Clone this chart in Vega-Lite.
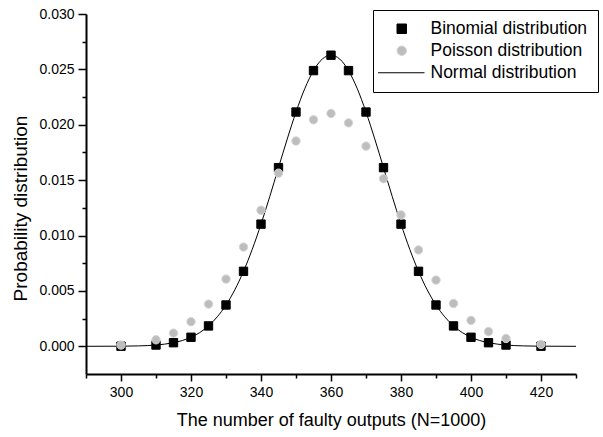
{
  "$schema": "https://vega.github.io/schema/vega-lite/v6.json",
  "width": 490,
  "height": 360,
  "autosize": "none",
  "padding": {"left": 86, "top": 14, "right": 27, "bottom": 63},
  "background": "white",
  "config": {
    "view": {"stroke": null},
    "font": "Liberation Sans",
    "axis": {
      "grid": false,
      "domainColor": "black",
      "domainWidth": 2,
      "tickColor": "black",
      "tickWidth": 1.5,
      "labelFont": "Liberation Sans",
      "labelFontSize": 14,
      "labelColor": "black",
      "labelOverlap": false,
      "labelFlush": false,
      "titleFont": "Liberation Sans",
      "titleFontSize": 18,
      "titleFontWeight": "normal",
      "titleColor": "black"
    }
  },
  "resolve": {"axis": {"x": "independent", "y": "independent"}},
  "datasets": {
    "normal": [
      {"x": 290, "y": 0}, {"x": 300, "y": 0.00001}, {"x": 305, "y": 0.000037}, {"x": 310, "y": 0.000116},
      {"x": 315, "y": 0.000325}, {"x": 317.5, "y": 0.000521}, {"x": 320, "y": 0.000816}, {"x": 322.5, "y": 0.00124},
      {"x": 325, "y": 0.00184}, {"x": 327.5, "y": 0.00266}, {"x": 330, "y": 0.00373}, {"x": 332.5, "y": 0.00509},
      {"x": 335, "y": 0.00677}, {"x": 337.5, "y": 0.00876}, {"x": 340, "y": 0.01103}, {"x": 342.5, "y": 0.01352},
      {"x": 345, "y": 0.01613}, {"x": 347.5, "y": 0.01872}, {"x": 350, "y": 0.02115}, {"x": 352.5, "y": 0.02326},
      {"x": 355, "y": 0.02489}, {"x": 357.5, "y": 0.02593}, {"x": 360, "y": 0.02628}, {"x": 362.5, "y": 0.02593},
      {"x": 365, "y": 0.02489}, {"x": 367.5, "y": 0.02326}, {"x": 370, "y": 0.02115}, {"x": 372.5, "y": 0.01872},
      {"x": 375, "y": 0.01613}, {"x": 377.5, "y": 0.01352}, {"x": 380, "y": 0.01103}, {"x": 382.5, "y": 0.00876},
      {"x": 385, "y": 0.00677}, {"x": 387.5, "y": 0.00509}, {"x": 390, "y": 0.00373}, {"x": 392.5, "y": 0.00266},
      {"x": 395, "y": 0.00184}, {"x": 397.5, "y": 0.00124}, {"x": 400, "y": 0.000816}, {"x": 402.5, "y": 0.000521},
      {"x": 405, "y": 0.000325}, {"x": 410, "y": 0.000116}, {"x": 415, "y": 0.000037}, {"x": 420, "y": 0.00001},
      {"x": 430, "y": 0}
    ],
    "points": [
      {"x": 300, "y": 0.00001, "series": "Binomial distribution"},
      {"x": 310, "y": 0.000116, "series": "Binomial distribution"},
      {"x": 315, "y": 0.000325, "series": "Binomial distribution"},
      {"x": 320, "y": 0.000816, "series": "Binomial distribution"},
      {"x": 325, "y": 0.00184, "series": "Binomial distribution"},
      {"x": 330, "y": 0.00373, "series": "Binomial distribution"},
      {"x": 335, "y": 0.00677, "series": "Binomial distribution"},
      {"x": 340, "y": 0.01103, "series": "Binomial distribution"},
      {"x": 345, "y": 0.01613, "series": "Binomial distribution"},
      {"x": 350, "y": 0.02115, "series": "Binomial distribution"},
      {"x": 355, "y": 0.02489, "series": "Binomial distribution"},
      {"x": 360, "y": 0.02628, "series": "Binomial distribution"},
      {"x": 365, "y": 0.02489, "series": "Binomial distribution"},
      {"x": 370, "y": 0.02115, "series": "Binomial distribution"},
      {"x": 375, "y": 0.01613, "series": "Binomial distribution"},
      {"x": 380, "y": 0.01103, "series": "Binomial distribution"},
      {"x": 385, "y": 0.00677, "series": "Binomial distribution"},
      {"x": 390, "y": 0.00373, "series": "Binomial distribution"},
      {"x": 395, "y": 0.00184, "series": "Binomial distribution"},
      {"x": 400, "y": 0.000816, "series": "Binomial distribution"},
      {"x": 405, "y": 0.000325, "series": "Binomial distribution"},
      {"x": 410, "y": 0.000116, "series": "Binomial distribution"},
      {"x": 420, "y": 0.00001, "series": "Binomial distribution"},
      {"x": 300, "y": 0.00011, "series": "Poisson distribution"},
      {"x": 310, "y": 0.00059, "series": "Poisson distribution"},
      {"x": 315, "y": 0.00119, "series": "Poisson distribution"},
      {"x": 320, "y": 0.00222, "series": "Poisson distribution"},
      {"x": 325, "y": 0.00381, "series": "Poisson distribution"},
      {"x": 330, "y": 0.00607, "series": "Poisson distribution"},
      {"x": 335, "y": 0.00896, "series": "Poisson distribution"},
      {"x": 340, "y": 0.01228, "series": "Poisson distribution"},
      {"x": 345, "y": 0.01563, "series": "Poisson distribution"},
      {"x": 350, "y": 0.01853, "series": "Poisson distribution"},
      {"x": 355, "y": 0.02045, "series": "Poisson distribution"},
      {"x": 360, "y": 0.02102, "series": "Poisson distribution"},
      {"x": 365, "y": 0.02017, "series": "Poisson distribution"},
      {"x": 370, "y": 0.01807, "series": "Poisson distribution"},
      {"x": 375, "y": 0.01513, "series": "Poisson distribution"},
      {"x": 380, "y": 0.01186, "series": "Poisson distribution"},
      {"x": 385, "y": 0.0087, "series": "Poisson distribution"},
      {"x": 390, "y": 0.00598, "series": "Poisson distribution"},
      {"x": 395, "y": 0.00387, "series": "Poisson distribution"},
      {"x": 400, "y": 0.00234, "series": "Poisson distribution"},
      {"x": 405, "y": 0.00133, "series": "Poisson distribution"},
      {"x": 410, "y": 0.00071, "series": "Poisson distribution"},
      {"x": 420, "y": 0.00017, "series": "Poisson distribution"}
    ]
  },
  "layer": [
    {
      "data": {"name": "normal"},
      "mark": {"type": "line", "color": "black", "strokeWidth": 1, "interpolate": "monotone"},
      "encoding": {
        "x": {
          "field": "x", "type": "quantitative",
          "scale": {"domain": [290, 430], "nice": false, "zero": false},
          "axis": {
            "orient": "bottom",
            "title": "The number of faulty outputs (N=1000)",
            "values": [300, 320, 340, 360, 380, 400, 420],
            "tickSize": 7,
            "labelPadding": 4,
            "titleX": 245,
            "titleY": 46,
            "titleBaseline": "middle",
            "titleAlign": "center"
          }
        },
        "y": {
          "field": "y", "type": "quantitative",
          "scale": {"domain": [-0.0025, 0.03], "nice": false, "zero": false},
          "axis": {
            "orient": "left",
            "title": "Probability distribution",
            "values": [0, 0.005, 0.01, 0.015, 0.02, 0.025, 0.03],
            "format": ".3f",
            "tickSize": 8,
            "labelPadding": 4,
            "titleFontSize": 19,
            "titleX": -66,
            "titleY": 194,
            "titleAngle": -90,
            "titleBaseline": "middle",
            "titleAlign": "center"
          }
        }
      }
    },
    {
      "data": {"name": "points"},
      "mark": {"type": "point", "filled": true, "strokeWidth": 1, "opacity": 1, "size": 70},
      "encoding": {
        "x": {
          "field": "x", "type": "quantitative",
          "axis": {"orient": "bottom", "title": null, "labels": false, "domain": false, "tickSize": 4, "values": [290, 310, 330, 350, 370, 390, 410, 430]}
        },
        "y": {
          "field": "y", "type": "quantitative",
          "axis": {"orient": "left", "title": null, "labels": false, "domain": false, "tickSize": 4, "values": [0.0025, 0.0075, 0.0125, 0.0175, 0.0225, 0.0275]}
        },
        "shape": {
          "field": "series", "type": "nominal",
          "scale": {"domain": ["Binomial distribution", "Poisson distribution", "Normal distribution"], "range": ["square", "circle", "M-5,0H4.8"]},
          "legend": {
            "title": null,
            "orient": "none",
            "legendX": 287,
            "legendY": -4,
            "strokeColor": "black",
            "fillColor": "white",
            "padding": 10,
            "symbolSize": 90,
            "symbolStrokeWidth": 1,
            "symbolOffset": 10,
            "labelOffset": 20,
            "labelFont": "Liberation Sans",
            "labelFontSize": 17.5,
            "labelColor": "black",
            "rowPadding": 3,
            "labelLimit": 300
          }
        },
        "fill": {
          "field": "series", "type": "nominal",
          "scale": {"domain": ["Binomial distribution", "Poisson distribution", "Normal distribution"], "range": ["#000000", "#bdbdbd", "#000000"]}
        },
        "stroke": {
          "field": "series", "type": "nominal",
          "scale": {"domain": ["Binomial distribution", "Poisson distribution", "Normal distribution"], "range": ["#000000", "#d4d4d4", "#000000"]}
        }
      }
    }
  ]
}
